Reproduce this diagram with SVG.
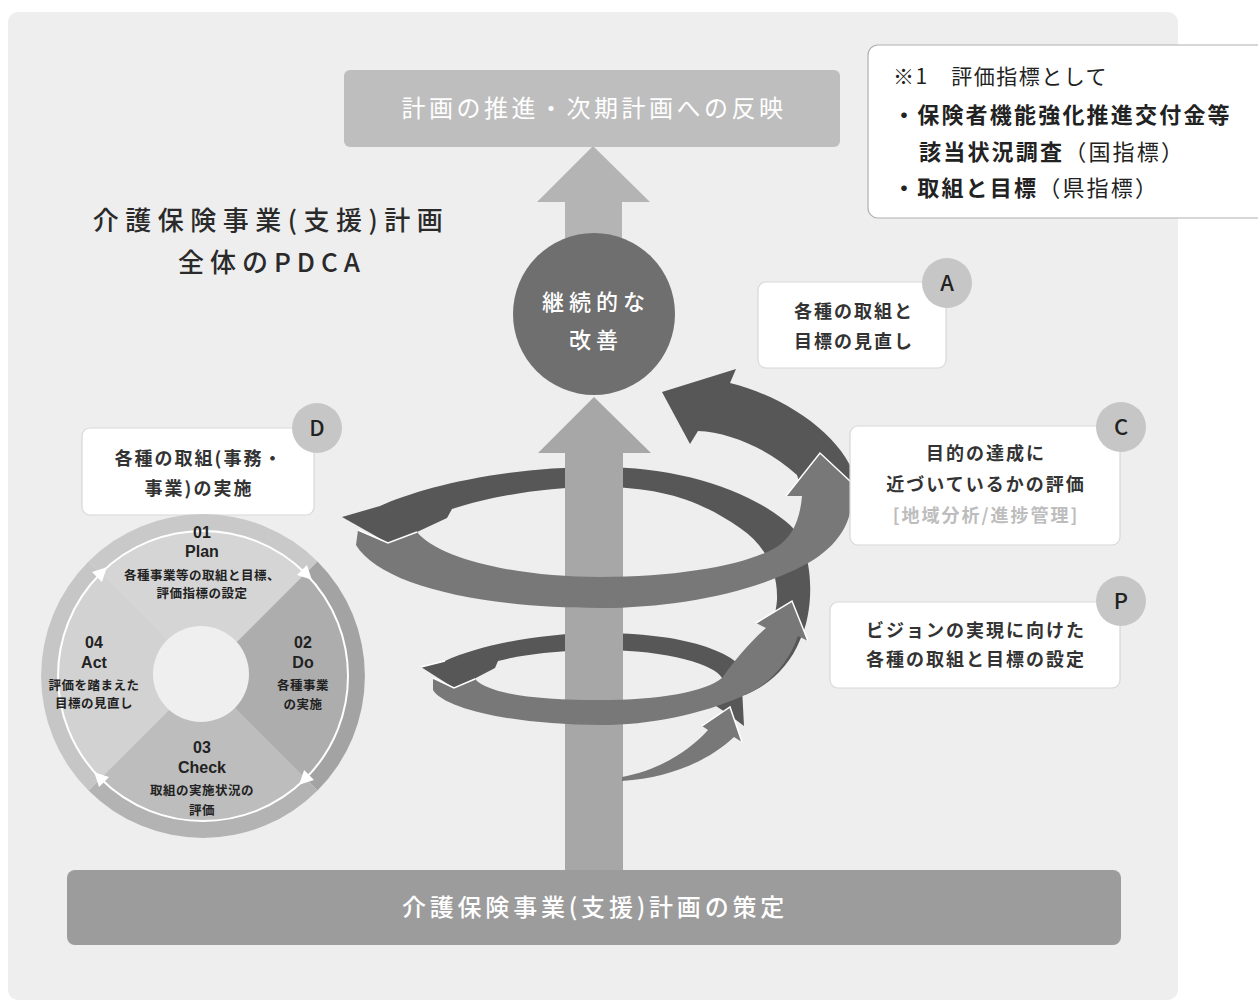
<svg xmlns="http://www.w3.org/2000/svg" width="1258" height="1003" viewBox="0 0 1258 1003">
<style>
text{font-family:"Noto Sans CJK JP","Noto Sans",sans-serif}
.box{fill:#fff;stroke:#d8d8d8;stroke-width:1.2}
.bt{font-size:18px;font-weight:700;fill:#333;text-anchor:middle;letter-spacing:2px}
.lc{fill:#c6c6c6}
.lt{font-size:22px;fill:#222;text-anchor:middle;font-weight:500}
.dark{fill:#575757}
.med{fill:#787878}
.edge{fill:none;stroke:#fff;stroke-width:1.5;stroke-linejoin:miter}
.pn{font-family:"Liberation Sans",Arial,sans-serif;font-size:16px;font-weight:700;fill:#222;text-anchor:middle}
.ps{font-size:12.5px;font-weight:700;fill:#222;text-anchor:middle;letter-spacing:0.5px}
.fn{font-size:21px;fill:#222}
.fb{font-size:22px;fill:#222;font-weight:700;letter-spacing:2.2px}
</style>
<rect x="0" y="0" width="1258" height="1003" fill="#fff"/>
<rect x="8" y="12" width="1170" height="988" rx="10" fill="#eeeeee"/>

<g id="title">
<text x="271" y="230" font-size="26" font-weight="500" fill="#2a2a2a" text-anchor="middle" letter-spacing="6.5">介護保険事業(支援)計画</text>
<text x="272" y="272" font-size="26" font-weight="500" fill="#2a2a2a" text-anchor="middle" letter-spacing="6">全体のPDCA</text>
</g>

<g id="connectors">
<rect x="565" y="198" width="57" height="70" fill="#b4b4b4"/>
<polygon points="537,202 593,146 650,202" fill="#b4b4b4"/>
<path class="dark" d="M342 517 L380 506 C420 488 500 467 600 467 C680 467 750 490 790 525 C815 550 815 610 800 640 C790 665 770 685 745 695 L725 680 C755 660 775 630 777 600 C778 570 765 545 740 528 C700 500 660 487 600 487 C540 487 490 497 452 509 L447 518 L417 532 L388 543 Z"/>
<path class="dark" d="M857 485 C848 440 790 398 730 383 L736 369 L662 392 L690 444 L698 431 C730 432 770 450 797 475 L805 500 Z"/>
<path class="dark" d="M421 667 L445 661 C480 645 540 633 600 633 C680 633 740 650 750 680 L745 695 L722 678 C715 665 670 650 600 650 C560 650 520 655 498 661 L495 668 L472 680 L454 688 Z"/>
<polygon class="dark" points="716,706 742,688 744,726 728,714"/>
<rect x="565" y="450" width="58" height="424" fill="#a7a7a7"/>
<polygon points="538,453 594,397 651,453" fill="#a7a7a7"/>
<path class="med" d="M433 678 L454 688 L475 679 C490 695 540 700 600 700 C660 700 705 692 722 678 C735 660 750 642 766 628 L756 623 L792 601 L808 641 L798 636 C790 660 770 685 745 695 C700 715 650 725 600 725 C520 725 445 710 433 690 Z"/>
<polyline class="edge" points="433,678 454,688 475,679"/>
<polyline class="edge" points="756,623 792,601 808,641"/>
<path class="med" d="M622 777 C660 770 690 750 708 730 L702 726 L730 707 L742 742 L734 737 C710 760 670 778 622 781 Z"/>
<polyline class="edge" points="702,726 730,707 742,742"/>
<path class="med" d="M358 530 L388 543 L417 532 C440 560 520 577 600 577 C680 577 745 565 775 548 C792 538 800 520 802 496 L786 496 L820 453 L866 496 L852 496 C852 530 830 555 790 572 C740 595 670 608 600 608 C480 608 380 585 356 545 Z"/>
<polyline class="edge" points="358,530 388,543 417,532"/>
<polyline class="edge" points="786,496 820,453 866,496"/>
<polyline class="edge" points="421,667 445,661"/>
</g>

<g id="node-top">
<rect x="344" y="70" width="496" height="77" rx="6" fill="#bebebe"/>
<text x="594" y="117" font-size="24" fill="#fff" text-anchor="middle" letter-spacing="3.5">計画の推進・次期計画への反映</text>
</g>

<g id="node-kaizen">
<circle cx="594" cy="314" r="81" fill="#6f6f6f"/>
<text x="596" y="310" font-size="22" font-weight="500" fill="#fff" text-anchor="middle" letter-spacing="5">継続的な</text>
<text x="596" y="348" font-size="22" font-weight="500" fill="#fff" text-anchor="middle" letter-spacing="5">改善</text>
</g>

<g id="node-bottom">
<rect x="67" y="870" width="1054" height="75" rx="8" fill="#9c9c9c"/>
<text x="595" y="916" font-size="24" font-weight="500" fill="#fff" text-anchor="middle" letter-spacing="3.8">介護保険事業(支援)計画の策定</text>
</g>

<g id="node-note">
<rect x="868" y="45" width="420" height="173" rx="10" fill="#fff" stroke="#b0b0b0" stroke-width="1.2"/>
<text x="893" y="84" class="fn" letter-spacing="1.5">※1　評価指標として</text>
<text x="893" y="123" class="fb">・保険者機能強化推進交付金等</text>
<text x="919" y="160" class="fb">該当状況調査<tspan font-weight="400">（国指標）</tspan></text>
<text x="893" y="196" class="fb">・取組と目標<tspan font-weight="400">（県指標）</tspan></text>
</g>

<g id="node-A">
<rect class="box" x="758" y="282" width="188" height="86" rx="8"/>
<text class="bt" x="854" y="318">各種の取組と</text>
<text class="bt" x="854" y="348">目標の見直し</text>
<circle class="lc" cx="947" cy="283" r="25"/>
<text class="lt" x="947" y="291">A</text>
</g>

<g id="node-C">
<rect class="box" x="850" y="426" width="270" height="119" rx="8"/>
<text class="bt" x="986" y="460">目的の達成に</text>
<text class="bt" x="986" y="491">近づいているかの評価</text>
<text class="bt" x="986" y="522" style="fill:#bdbdbd">[地域分析/進捗管理]</text>
<circle class="lc" cx="1121" cy="427" r="25"/>
<text class="lt" x="1121" y="435">C</text>
</g>

<g id="node-P">
<rect class="box" x="830" y="602" width="290" height="86" rx="8"/>
<text class="bt" x="976" y="637">ビジョンの実現に向けた</text>
<text class="bt" x="976" y="666">各種の取組と目標の設定</text>
<circle class="lc" cx="1121" cy="601" r="25"/>
<text class="lt" x="1121" y="609">P</text>
</g>

<g id="node-D">
<rect class="box" x="82" y="428" width="232" height="87" rx="8"/>
<text class="bt" x="199" y="465" letter-spacing="2.5">各種の取組(事務・</text>
<text class="bt" x="199" y="495" letter-spacing="2.5">事業)の実施</text>
<circle class="lc" cx="317" cy="428" r="25"/>
<text class="lt" x="317" y="436">D</text>
</g>

<g id="node-cycle">
<path d="M203 676 L88.5 561.5 A162 162 0 0 1 317.5 561.5 Z" fill="#c9c9c9"/>
<path d="M203 676 L317.5 561.5 A162 162 0 0 1 317.5 790.5 Z" fill="#a3a3a3"/>
<path d="M203 676 L317.5 790.5 A162 162 0 0 1 88.5 790.5 Z" fill="#b3b3b3"/>
<path d="M203 676 L88.5 790.5 A162 162 0 0 1 88.5 561.5 Z" fill="#c6c6c6"/>
<path d="M203 676 L100.5 573.5 A145 145 0 0 1 305.5 573.5 Z" fill="#d5d5d5"/>
<path d="M203 676 L305.5 573.5 A145 145 0 0 1 305.5 778.5 Z" fill="#adadad"/>
<path d="M203 676 L305.5 778.5 A145 145 0 0 1 100.5 778.5 Z" fill="#bdbdbd"/>
<path d="M203 676 L100.5 778.5 A145 145 0 0 1 100.5 573.5 Z" fill="#d2d2d2"/>
<circle cx="203" cy="676" r="145" fill="none" stroke="#fff" stroke-width="2"/>
<polygon points="9,0 -5,-7 -5,7" fill="#fff" transform="translate(305.5,573.5) rotate(45)"/>
<polygon points="9,0 -5,-7 -5,7" fill="#fff" transform="translate(305.5,778.5) rotate(135)"/>
<polygon points="9,0 -5,-7 -5,7" fill="#fff" transform="translate(100.5,778.5) rotate(225)"/>
<polygon points="9,0 -5,-7 -5,7" fill="#fff" transform="translate(100.5,573.5) rotate(-45)"/>
<circle cx="201" cy="674" r="48" fill="#efefef"/>
<text class="pn" x="202" y="538">01</text>
<text class="pn" x="202" y="557">Plan</text>
<text class="ps" x="202" y="580">各種事業等の取組と目標、</text>
<text class="ps" x="202" y="598">評価指標の設定</text>
<text class="pn" x="303" y="648">02</text>
<text class="pn" x="303" y="668">Do</text>
<text class="ps" x="303" y="690">各種事業</text>
<text class="ps" x="303" y="709">の実施</text>
<text class="pn" x="202" y="753">03</text>
<text class="pn" x="202" y="773">Check</text>
<text class="ps" x="202" y="795">取組の実施状況の</text>
<text class="ps" x="202" y="815">評価</text>
<text class="pn" x="94" y="648">04</text>
<text class="pn" x="94" y="668">Act</text>
<text class="ps" x="94" y="690">評価を踏まえた</text>
<text class="ps" x="94" y="708">目標の見直し</text>
</g>
</svg>
